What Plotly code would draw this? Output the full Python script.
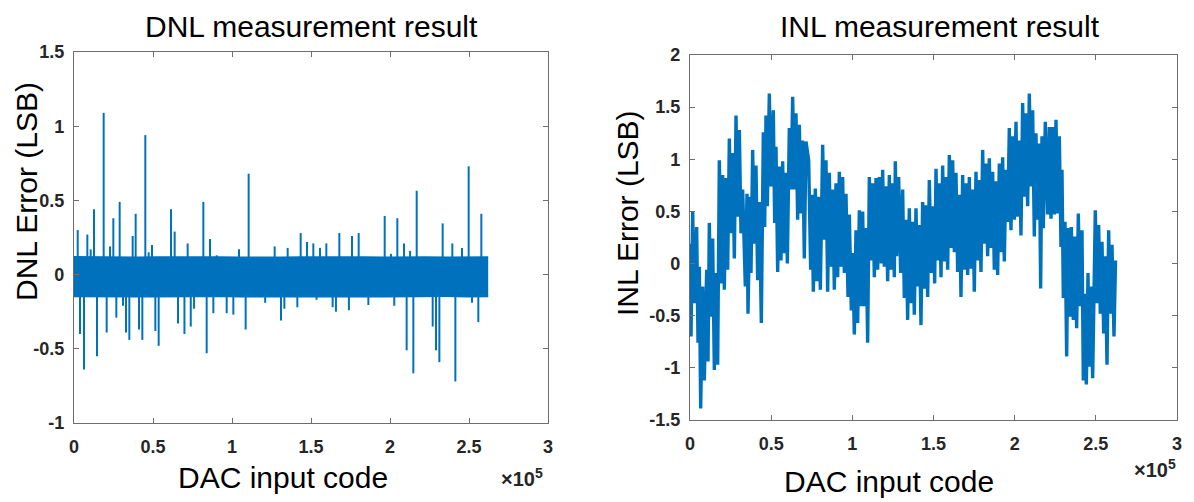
import plotly.graph_objects as go

BLUE = "#0072BD"
FONT = "Liberation Sans, Arial, Helvetica, sans-serif"

# ---------------- DNL data ----------------
# dense quantisation band (codes, upper / lower edge in LSB)
band_code = [0, 13100, 26200, 39300, 52400, 65500, 78600, 91700, 104800, 117900,
             131000, 144200, 157300, 170400, 183500, 196600, 209700, 222800, 235900,
             249000, 262143]
band_hi = [0.118, 0.116, 0.118, 0.115, 0.117, 0.118, 0.116, 0.117, 0.115, 0.118,
           0.116, 0.117, 0.118, 0.115, 0.117, 0.116, 0.118, 0.117, 0.116, 0.118, 0.117]
band_lo = [-0.146, -0.148, -0.145, -0.147, -0.148, -0.146, -0.147, -0.145, -0.148, -0.146,
           -0.147, -0.148, -0.146, -0.145, -0.147, -0.148, -0.146, -0.147, -0.145, -0.147, -0.146]

# isolated DNL spikes (code, value in LSB)
spike_code = [2340, 8440, 10560, 12660, 18780, 22780, 24900, 28900, 37130, 39030,
              45140, 47250, 49370, 61390, 63710, 71930, 81860, 86070, 90290, 104430,
              110540, 127000, 135230, 143470, 147470, 151470, 155690, 159700, 167930, 175950,
              180170, 196630, 200600, 204640, 208860, 212700, 216890, 233330, 239450, 245570,
              249790, 257810,
              3800, 6330, 14560, 20680, 26800, 31010, 32910, 35020, 41140, 43250,
              51480, 53590, 65820, 69900, 73900, 76000, 83970, 88190, 96630, 100850,
              108640, 121000, 131010, 133130, 141350, 153500, 163700, 165800, 174000, 186300,
              202700, 210540, 214770, 227010, 229120, 231240, 241370, 251900, 255900]
spike_val = [0.30, 0.27, 0.17, 0.44, 1.09, 0.19, 0.38, 0.49, 0.26, 0.41,
             0.94, 0.15, 0.20, 0.44, 0.29, 0.21, 0.49, 0.24, 0.13, 0.17,
             0.68, 0.19, 0.18, 0.28, 0.22, 0.21, 0.18, 0.21, 0.28, 0.26,
             0.28, 0.395, 0.14, 0.38, 0.21, 0.16, 0.565, 0.345, 0.21, 0.18,
             0.73, 0.41,
             -0.40, -0.64, -0.55, -0.39, -0.29, -0.21, -0.39, -0.44, -0.37, -0.44,
             -0.38, -0.48, -0.33, -0.40, -0.35, -0.23, -0.53, -0.26, -0.26, -0.27,
             -0.37, -0.19, -0.31, -0.23, -0.22, -0.17, -0.22, -0.25, -0.24, -0.205,
             -0.21, -0.51, -0.665, -0.35, -0.51, -0.59, -0.72, -0.19, -0.32]

# ---------------- INL data ----------------
# codes in thousands, INL error in LSB
inl_code_k = [0.00, 0.62, 1.65, 2.67, 4.11, 4.93, 5.75, 6.57, 7.81, 8.83,
              10.27, 11.09, 11.91, 12.94, 13.96, 14.99, 16.02, 17.04, 18.07, 19.30,
              20.12, 21.15, 22.18, 23.20, 24.23, 25.26, 26.28, 27.31, 28.34, 29.36,
              30.39, 31.42, 32.44, 34.08, 35.11, 35.73, 36.96, 37.58, 38.60, 39.63,
              40.65, 41.68, 42.71, 43.94, 45.17, 45.99, 46.81, 47.63, 48.86, 49.89,
              51.33, 52.15, 52.97, 54.00, 55.02, 56.05, 57.08, 58.10, 59.13, 59.95,
              61.18, 62.21, 63.24, 64.26, 65.29, 66.31, 67.34, 68.37, 69.39, 70.42,
              71.46, 73.10, 74.33, 75.15, 75.97, 77.20, 78.23, 79.26, 80.28, 81.72,
              82.75, 83.77, 84.80, 85.83, 86.85, 87.88, 88.91, 89.93, 90.96, 91.99,
              93.01, 94.04, 95.07, 96.09, 97.33, 98.15, 99.38, 100.20, 101.23, 102.25,
              103.28, 104.31, 105.33, 106.36, 107.39, 108.41, 109.44, 110.47, 111.70, 112.52,
              113.55, 114.57, 115.60, 116.63, 117.86, 118.68, 119.71, 120.73, 121.76, 122.79,
              123.81, 124.84, 125.86, 126.48, 127.30, 128.53, 129.76, 131.00, 132.02, 133.05,
              134.08, 135.10, 136.13, 137.16, 138.18, 139.21, 140.23, 141.26, 142.29, 143.31,
              144.55, 145.38, 146.40, 147.43, 148.66, 149.89, 150.71, 151.54, 152.56, 153.59,
              154.62, 155.64, 156.67, 157.70, 158.72, 159.75, 160.77, 161.80, 162.83, 163.85,
              164.88, 165.91, 166.93, 167.96, 168.99, 170.01, 171.04, 172.07, 173.09, 174.12,
              175.14, 176.17, 177.20, 178.22, 179.25, 180.28, 181.30, 182.33, 183.36, 184.38,
              185.41, 186.44, 187.46, 188.49, 189.51, 190.54, 191.57, 192.59, 193.62, 194.65,
              195.67, 196.70, 197.73, 198.75, 199.78, 200.81, 201.83, 202.86, 203.89, 204.91,
              205.94, 206.97, 207.99, 209.02, 210.04, 211.07, 212.10, 213.12, 214.15, 215.18,
              216.00, 216.82, 217.64, 218.87, 220.32, 221.35, 222.38, 223.40, 224.43, 225.46,
              226.48, 227.51, 228.54, 229.15, 229.97, 231.00, 232.03, 232.85, 234.08, 234.90,
              236.13, 236.95, 238.18, 239.21, 240.24, 241.47, 242.29, 243.11, 244.14, 245.17,
              245.99, 247.01, 248.04, 249.68, 250.71, 251.74, 252.76, 253.79, 254.82, 255.84,
              256.87, 257.90, 258.92, 259.95, 261.18, 262.14]
inl_val = [0.19, -0.70, 0.50, -0.38, 0.35, -0.76, -0.03, -1.39, -0.22, -1.12,
           -0.06, -0.94, 0.39, -0.51, 0.24, -1.02, -0.09, -0.97, 0.99, -0.19,
           0.85, -0.25, 0.82, -0.06, 1.20, 0.29, 1.06, 0.05, 1.42, 0.45,
           1.28, 0.29, 0.71, -0.22, 0.67, -0.48, 0.64, -0.09, 1.09, 0.19,
           0.94, -0.16, 0.59, -0.57, 1.26, 0.35, 1.42, 0.55, 1.63, 0.74,
           1.47, 0.39, 1.12, -0.08, 0.93, 0.03, 0.98, 0.10, 0.87, 0.00,
           1.30, 0.71, 1.60, 0.71, 1.44, 0.42, 1.33, 0.48, 1.18, 0.05,
           1.17, 0.99, -0.06, 0.66, -0.27, 0.72, -0.17, 0.64, -0.25, 1.14,
           0.23, 0.99, -0.27, 0.87, -0.03, 0.71, -0.25, 0.77, -0.13, 0.88,
           -0.03, 0.83, -0.09, 0.67, -0.32, 0.47, -0.45, 0.10, -0.68, 0.32,
           -0.57, 0.51, -0.41, 0.50, -0.41, 0.34, -0.76, 0.83, 0.03, 0.77,
           -0.13, 0.82, -0.06, 0.83, 0.00, 0.90, -0.03, 0.74, -0.17, 0.85,
           -0.06, 0.77, -0.13, 0.98, 0.07, 0.83, -0.09, 0.71, -0.33, 0.42,
           -0.54, 0.53, -0.38, 0.40, -0.49, 0.53, -0.22, 0.37, -0.59, 0.59,
           -0.24, 0.56, -0.32, 0.80, -0.09, 0.55, -0.19, 0.91, 0.03, 0.77,
           -0.13, 0.94, 0.02, 0.83, -0.06, 1.04, 0.15, 0.99, 0.11, 0.87,
           -0.08, 0.66, -0.32, 0.85, -0.06, 0.77, -0.11, 0.83, -0.05, 0.71,
           -0.27, 0.88, 0.03, 0.80, -0.08, 1.09, 0.19, 0.96, 0.07, 1.01,
           0.15, 0.88, -0.06, 0.79, -0.11, 0.96, 0.11, 1.02, 0.02, 0.90,
           0.40, 1.30, 0.32, 1.22, 0.42, 1.36, 0.45, 1.18, 0.27, 1.54,
           0.64, 1.44, 0.55, 1.63, 0.74, 1.47, 0.26, 1.25, 0.42, 1.15,
           -0.24, 1.22, 0.34, 1.36, 0.47, 1.31, 0.43, 1.31, 0.47, 1.38,
           0.48, 1.22, 0.16, 0.90, -0.33, 0.40, -0.89, 0.34, -0.51, 0.35,
           -0.54, 0.26, -0.62, 0.48, -0.41, 0.32, -1.12, -0.29, -1.16, -0.09,
           -0.99, -0.22, -1.10, 0.51, -0.38, 0.37, -0.48, 0.21, -0.67, 0.07,
           -0.97, 0.32, -0.48, 0.18, -0.70, 0.03]

x_ticks = [0, 50000, 100000, 150000, 200000, 250000, 300000]
x_ticktext = ["0", "0.5", "1", "1.5", "2", "2.5", "3"]
dnl_yticks = [-1, -0.5, 0, 0.5, 1, 1.5]
dnl_yticktext = ["-1", "-0.5", "0", "0.5", "1", "1.5"]
inl_yticks = [-1.5, -1, -0.5, 0, 0.5, 1, 1.5, 2]
inl_yticktext = ["-1.5", "-1", "-0.5", "0", "0.5", "1", "1.5", "2"]

# page body has an 8 px margin; the figure is sized to the remaining view
OFF = 8
W, H = 1194 - OFF, 502 - OFF
def px(x):
    return (x - OFF) / W
def py(y):
    return 1 - (y - OFF) / H

# ---------------- figure ----------------
fig = go.Figure()

fig.add_trace(go.Scatter(x=band_code, y=band_hi, mode="lines",
                         line=dict(color=BLUE, width=2), hoverinfo="skip",
                         showlegend=False, xaxis="x", yaxis="y"))
fig.add_trace(go.Scatter(x=band_code, y=band_lo, mode="lines", fill="tonexty",
                         fillcolor=BLUE, line=dict(color=BLUE, width=2),
                         hoverinfo="skip", showlegend=False, xaxis="x", yaxis="y"))

sx, sy = [], []
for c, v in zip(spike_code, spike_val):
    sx += [c, c, None]
    sy += [0, v, None]
fig.add_trace(go.Scatter(x=sx, y=sy, mode="lines", line=dict(color=BLUE, width=2),
                         showlegend=False, xaxis="x", yaxis="y"))

fig.add_trace(go.Scatter(x=[c * 1000 for c in inl_code_k], y=inl_val, mode="lines",
                         line=dict(color=BLUE, width=3.4), showlegend=False,
                         xaxis="x2", yaxis="y2"))

axis_common = dict(showline=True, linecolor="#6e6e6e", linewidth=1.2, mirror="ticks",
                   ticks="inside", ticklen=5, tickwidth=1, tickcolor="#6e6e6e",
                   showgrid=False, zeroline=False, automargin=False,
                   tickfont=dict(family=FONT, size=18, color="#262626", weight="bold"))

fig.update_layout(
    width=W, height=H,
    margin=dict(l=0, r=0, t=0, b=0, autoexpand=False),
    paper_bgcolor="white", plot_bgcolor="white",
    xaxis=dict(domain=[px(74), px(548)], range=[0, 300000], anchor="y",
               tickvals=x_ticks, ticktext=x_ticktext, ticklabelstandoff=7, **axis_common),
    yaxis=dict(domain=[py(423), py(52)], range=[-1, 1.5], anchor="x",
               tickvals=dnl_yticks, ticktext=dnl_yticktext, ticklabelstandoff=5, **axis_common),
    xaxis2=dict(domain=[px(690), px(1177)], range=[0, 300000], anchor="y2",
                tickvals=x_ticks, ticktext=x_ticktext, ticklabelstandoff=7, **axis_common),
    yaxis2=dict(domain=[py(420), py(55)], range=[-1.5, 2], anchor="x2",
                tickvals=inl_yticks, ticktext=inl_yticktext, ticklabelstandoff=5, **axis_common),
)

def ann(text, x, y, size=30, xanchor="center", yanchor="middle", textangle=0,
        color="#000000", weight="normal"):
    fig.add_annotation(text=text, x=px(x), y=py(y), xref="paper", yref="paper",
                       showarrow=False, xanchor=xanchor, yanchor=yanchor,
                       textangle=textangle,
                       font=dict(family=FONT, size=size, color=color, weight=weight))

ann("DNL measurement result", 311, OFF, yanchor="top")
ann("INL measurement result", 940, OFF, yanchor="top")
ann("DAC input code", 283, 477)
ann("DAC input code", 889, 481)
ann("DNL Error (LSB)", 27, 192, textangle=-90)
ann("INL Error (LSB)", 627, 213, textangle=-90)
ann("×10<sup>5</sup>", 545, 477, size=20, xanchor="right", color="#262626", weight="bold")
ann("×10<sup>5</sup>", 1178, 468, size=20, xanchor="right", color="#262626", weight="bold")

fig.write_html("out.html")
